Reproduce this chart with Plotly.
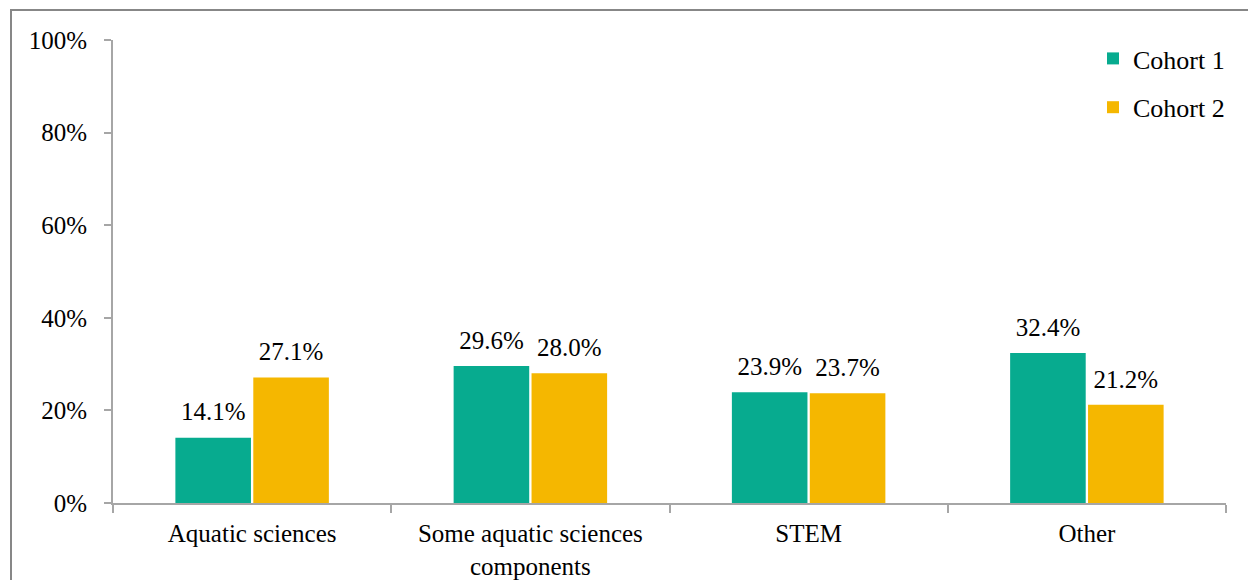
import plotly.graph_objects as go

categories = ["Aquatic sciences", "Some aquatic sciences<br>components", "STEM", "Other"]
cohort1 = [14.1, 29.6, 23.9, 32.4]
cohort2 = [27.1, 28.0, 23.7, 21.2]
series_names = ["Cohort 1", "Cohort 2"]
colors = ["#07AB8F", "#F5B700"]

FONT = "Liberation Serif"
FS = 25
FS_CAT = 25
FS_LEG = 26
W, H = 1248, 580
L, R, T, B = 113, 22, 40, 77
pw, ph = W - L - R, H - T - B

fig = go.Figure()
for i, (name, vals) in enumerate(zip(series_names, [cohort1, cohort2])):
    fig.add_trace(go.Bar(
        x=categories, y=vals, name=name,
        marker=dict(color=colors[i], line=dict(width=0)),
        offsetgroup=str(i), legendgroup=name,
    ))
for i, (name, vals) in enumerate(zip(series_names, [cohort1, cohort2])):
    fig.add_trace(go.Scatter(
        x=categories, y=vals, name=name, mode="markers+text",
        marker=dict(size=16, color="rgba(0,0,0,0)"),
        text=[f"{v:.1f}%" for v in vals], textposition="top center",
        textfont=dict(family=FONT, size=FS, color="black"),
        offsetgroup=str(i), showlegend=False, cliponaxis=False, hoverinfo="skip",
    ))

def px_x(p):
    return (p - L) / pw

def px_y(p):
    return 1 - (p - T) / ph

fig.update_layout(
    width=W, height=H,
    margin=dict(l=L, r=R, t=T, b=B, autoexpand=False),
    paper_bgcolor="white", plot_bgcolor="white",
    font=dict(family=FONT, size=FS, color="black"),
    barmode="group", bargap=0.44, bargroupgap=0.03,
    scattermode="group", scattergap=0.44,
    legend=dict(x=px_x(1093), y=px_y(35), xanchor="left", yanchor="top",
                font=dict(family=FONT, size=FS_LEG), tracegroupgap=12,
                bgcolor="rgba(0,0,0,0)"),
    xaxis=dict(showline=True, linecolor="#A6A6A6", linewidth=2, automargin=False,
               ticks="outside", tickson="boundaries", ticklen=8,
               tickcolor="#A6A6A6", tickwidth=2, showgrid=False,
               ticklabelstandoff=7,
               tickfont=dict(family=FONT, size=FS_CAT)),
    yaxis=dict(range=[0, 100], dtick=20, ticksuffix="%", showline=True, automargin=False,
               linecolor="#A6A6A6", linewidth=2, ticks="outside", ticklen=7,
               tickcolor="#A6A6A6", tickwidth=2, showgrid=False, zeroline=False,
               ticklabelstandoff=12,
               tickfont=dict(family=FONT, size=FS)),
    shapes=[dict(type="rect", xref="paper", yref="paper",
                 x0=px_x(11), x1=px_x(1300), y0=px_y(640), y1=px_y(10),
                 line=dict(color="#878787", width=2), layer="below")],
)

fig.write_html("out.html", config={"displayModeBar": False},
               post_script="document.body.style.margin='0';document.body.style.overflow='hidden';")
